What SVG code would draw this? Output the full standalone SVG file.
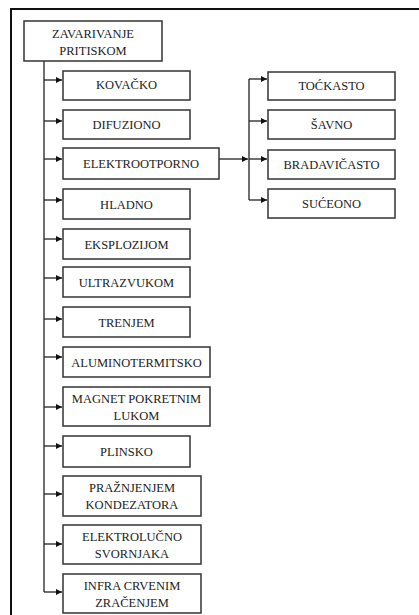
<svg xmlns="http://www.w3.org/2000/svg" width="419" height="615" viewBox="0 0 419 615">
<style>
.b{fill:#fff;stroke:#333;stroke-width:1.5}
.t{font-family:"Liberation Serif","Times New Roman",serif;font-size:12.5px;fill:#222;text-anchor:middle}
.c{fill:none;stroke:#222;stroke-width:1.3}
.a{marker-end:url(#ah)}
</style>
<defs>
<marker id="ah" markerUnits="userSpaceOnUse" markerWidth="7" markerHeight="6" refX="6" refY="3" orient="auto">
<path d="M0,0 L6,3 L0,6 z" fill="#111"/>
</marker>
</defs>
<rect x="0" y="0" width="419" height="615" fill="#fff"/>
<g id="frame"><path d="M11,615 V9 H419" fill="none" stroke="#111" stroke-width="2"/></g>
<g id="connectors">
<path class="c" d="M44,61 V592"/>
<path class="c a" d="M44,80 H62"/>
<path class="c a" d="M44,121 H62"/>
<path class="c a" d="M44,159 H62"/>
<path class="c a" d="M44,200 H62"/>
<path class="c a" d="M44,239 H62"/>
<path class="c a" d="M44,278 H62"/>
<path class="c a" d="M44,319 H62"/>
<path class="c a" d="M44,357 H62"/>
<path class="c a" d="M44,407 H62"/>
<path class="c a" d="M44,446 H62"/>
<path class="c a" d="M44,494 H62"/>
<path class="c a" d="M44,544 H62"/>
<path class="c a" d="M44,592 H62"/>
<path class="c a" d="M219,159 H248"/>
<path class="c" d="M249,79 V200"/>
<path class="c a" d="M249,79 H267"/>
<path class="c a" d="M249,121 H267"/>
<path class="c a" d="M249,159 H267"/>
<path class="c a" d="M249,200 H267"/>
</g>
<g id="n-root"><rect class="b" x="24" y="21" width="138" height="40"/><text class="t" x="93" y="38">ZAVARIVANJE</text><text class="t" x="93" y="55">PRITISKOM</text></g>
<g id="n-kovacko"><rect class="b" x="63" y="71" width="127" height="29"/><text class="t" x="126.5" y="89">KOVAČKO</text></g>
<g id="n-difuziono"><rect class="b" x="63" y="110" width="127" height="29"/><text class="t" x="126.5" y="128.5">DIFUZIONO</text></g>
<g id="n-elektrootporno"><rect class="b" x="63" y="148" width="156" height="31"/><text class="t" x="141" y="168">ELEKTROOTPORNO</text></g>
<g id="n-hladno"><rect class="b" x="63" y="189" width="127" height="30"/><text class="t" x="126.5" y="208.5">HLADNO</text></g>
<g id="n-eksplozijom"><rect class="b" x="63" y="229" width="127" height="30"/><text class="t" x="126.5" y="248.5">EKSPLOZIJOM</text></g>
<g id="n-ultrazvukom"><rect class="b" x="63" y="267" width="127" height="30"/><text class="t" x="126.5" y="286.5">ULTRAZVUKOM</text></g>
<g id="n-trenjem"><rect class="b" x="63" y="307" width="127" height="30"/><text class="t" x="126.5" y="326.5">TRENJEM</text></g>
<g id="n-aluminotermitsko"><rect class="b" x="63" y="347" width="147" height="30"/><text class="t" x="136.5" y="366.5">ALUMINOTERMITSKO</text></g>
<g id="n-magnet"><rect class="b" x="63" y="387" width="147" height="39"/><text class="t" x="136.5" y="403">MAGNET POKRETNIM</text><text class="t" x="136.5" y="420">LUKOM</text></g>
<g id="n-plinsko"><rect class="b" x="63" y="436" width="127" height="31"/><text class="t" x="126.5" y="456">PLINSKO</text></g>
<g id="n-praznjenjem"><rect class="b" x="63" y="476" width="138" height="40"/><text class="t" x="132" y="492">PRAŽNJENJEM</text><text class="t" x="132" y="509">KONDEZATORA</text></g>
<g id="n-elektrolucno"><rect class="b" x="63" y="525" width="138" height="39"/><text class="t" x="132" y="541">ELEKTROLUČNO</text><text class="t" x="132" y="558">SVORNJAKA</text></g>
<g id="n-infra"><rect class="b" x="63" y="574" width="138" height="39"/><text class="t" x="132" y="590">INFRA CRVENIM</text><text class="t" x="132" y="607">ZRAČENJEM</text></g>
<g id="n-tockasto"><rect class="b" x="268" y="72" width="127" height="28"/><text class="t" x="331.5" y="90">TOĆKASTO</text></g>
<g id="n-savno"><rect class="b" x="268" y="110" width="127" height="29"/><text class="t" x="331.5" y="128.5">ŠAVNO</text></g>
<g id="n-bradavicasto"><rect class="b" x="268" y="150" width="127" height="29"/><text class="t" x="331.5" y="168.5">BRADAVIČASTO</text></g>
<g id="n-suceono"><rect class="b" x="268" y="189" width="127" height="29"/><text class="t" x="331.5" y="207.5">SUĆEONO</text></g>
</svg>
